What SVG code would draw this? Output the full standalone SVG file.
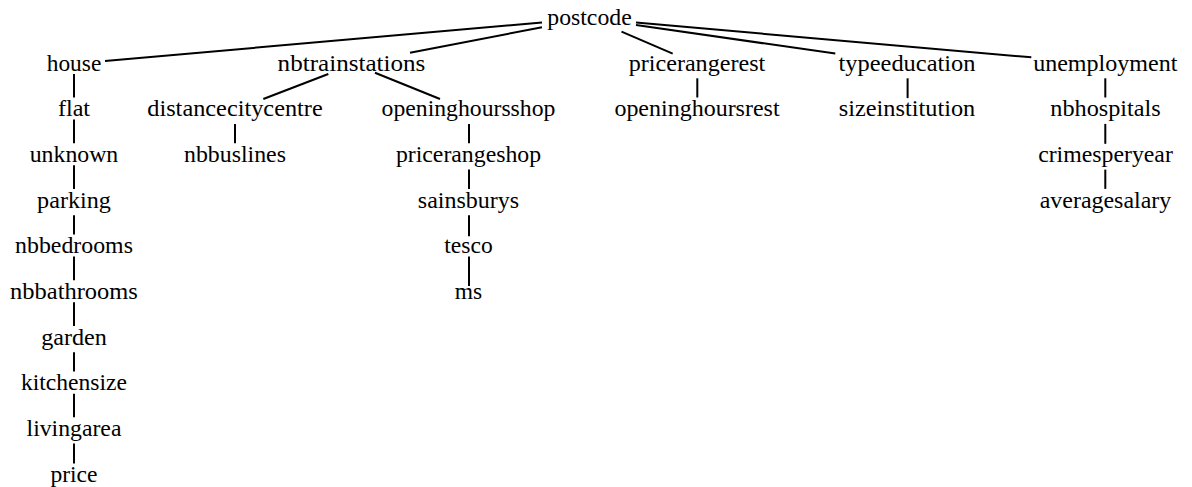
<svg xmlns="http://www.w3.org/2000/svg" width="1192" height="487" viewBox="0 0 1192 487">
<style>
text{font-family:"Liberation Serif","DejaVu Serif",serif;font-size:23px;fill:#000;text-anchor:middle}
.e line{stroke:#000;stroke-width:2;stroke-linecap:butt}
</style>
<rect width="1192" height="487" fill="#fff"/>
<g id="connectors" class="e">
<line x1="542" y1="22.4" x2="105" y2="61"/>
<line x1="542" y1="27.3" x2="410" y2="52.7"/>
<line x1="621.5" y1="31.7" x2="672.7" y2="53.6"/>
<line x1="636" y1="25" x2="835.3" y2="53.6"/>
<line x1="636" y1="22.6" x2="1031.3" y2="57.3"/>
<line x1="328.3" y1="74" x2="263.3" y2="99"/>
<line x1="375" y1="72.7" x2="440" y2="99"/>
<line x1="74" y1="74" x2="74" y2="97.5"/>
<line x1="74" y1="119.6" x2="74" y2="143.2"/>
<line x1="74" y1="165.3" x2="74" y2="188.9"/>
<line x1="74" y1="215.3" x2="74" y2="234.5"/>
<line x1="74" y1="256.6" x2="74" y2="280.2"/>
<line x1="74" y1="302.3" x2="74" y2="325.9"/>
<line x1="74" y1="352.3" x2="74" y2="371.6"/>
<line x1="74" y1="393.7" x2="74" y2="417.2"/>
<line x1="74" y1="443.6" x2="74" y2="463.5"/>
<line x1="235" y1="123.9" x2="235" y2="143.2"/>
<line x1="469" y1="123.9" x2="469" y2="143.2"/>
<line x1="469" y1="169.6" x2="469" y2="188.9"/>
<line x1="469" y1="215.3" x2="469" y2="236.3"/>
<line x1="469" y1="256.6" x2="469" y2="286.1"/>
<line x1="697.3" y1="78.3" x2="697.3" y2="97.5"/>
<line x1="907.6" y1="78.3" x2="907.6" y2="98.1"/>
<line x1="1105.3" y1="78.3" x2="1105.3" y2="97.5"/>
<line x1="1105.3" y1="123.9" x2="1105.3" y2="143.8"/>
<line x1="1105.3" y1="169.6" x2="1105.3" y2="188.9"/>
</g>
<g id="n-postcode"><text x="589.5" y="25" textLength="84.4" lengthAdjust="spacingAndGlyphs">postcode</text></g>
<g id="n-house"><text x="74" y="70.7" textLength="54.6" lengthAdjust="spacingAndGlyphs">house</text></g>
<g id="n-nbtrainstations"><text x="351.5" y="70.7" textLength="147.8" lengthAdjust="spacingAndGlyphs">nbtrainstations</text></g>
<g id="n-pricerangerest"><text x="697" y="70.7" textLength="136.6" lengthAdjust="spacingAndGlyphs">pricerangerest</text></g>
<g id="n-typeeducation"><text x="907" y="70.7" textLength="136.9" lengthAdjust="spacingAndGlyphs">typeeducation</text></g>
<g id="n-unemployment"><text x="1105.3" y="70.7" textLength="144.3" lengthAdjust="spacingAndGlyphs">unemployment</text></g>
<g id="n-flat"><text x="74" y="116.3" textLength="32.2" lengthAdjust="spacingAndGlyphs">flat</text></g>
<g id="n-distancecitycentre"><text x="235" y="116.3" textLength="175.5" lengthAdjust="spacingAndGlyphs">distancecitycentre</text></g>
<g id="n-openinghoursshop"><text x="468.5" y="116.3" textLength="173.8" lengthAdjust="spacingAndGlyphs">openinghoursshop</text></g>
<g id="n-openinghoursrest"><text x="697" y="116.3" textLength="165.2" lengthAdjust="spacingAndGlyphs">openinghoursrest</text></g>
<g id="n-sizeinstitution"><text x="907" y="116.3" textLength="136.5" lengthAdjust="spacingAndGlyphs">sizeinstitution</text></g>
<g id="n-nbhospitals"><text x="1105.5" y="116.3" textLength="110.5" lengthAdjust="spacingAndGlyphs">nbhospitals</text></g>
<g id="n-unknown"><text x="74" y="162" textLength="88.6" lengthAdjust="spacingAndGlyphs">unknown</text></g>
<g id="n-nbbuslines"><text x="235" y="162" textLength="101.9" lengthAdjust="spacingAndGlyphs">nbbuslines</text></g>
<g id="n-pricerangeshop"><text x="468.5" y="162" textLength="145.2" lengthAdjust="spacingAndGlyphs">pricerangeshop</text></g>
<g id="n-crimesperyear"><text x="1105.5" y="162" textLength="134.7" lengthAdjust="spacingAndGlyphs">crimesperyear</text></g>
<g id="n-parking"><text x="74" y="207.7" textLength="73.8" lengthAdjust="spacingAndGlyphs">parking</text></g>
<g id="n-sainsburys"><text x="468.5" y="207.7" textLength="101.4" lengthAdjust="spacingAndGlyphs">sainsburys</text></g>
<g id="n-averagesalary"><text x="1105.5" y="207.7" textLength="131.6" lengthAdjust="spacingAndGlyphs">averagesalary</text></g>
<g id="n-nbbedrooms"><text x="74" y="253.3" textLength="117.9" lengthAdjust="spacingAndGlyphs">nbbedrooms</text></g>
<g id="n-tesco"><text x="468.5" y="253.3" textLength="48.4" lengthAdjust="spacingAndGlyphs">tesco</text></g>
<g id="n-nbbathrooms"><text x="74" y="299" textLength="127.8" lengthAdjust="spacingAndGlyphs">nbbathrooms</text></g>
<g id="n-ms"><text x="468.5" y="299" textLength="27.4" lengthAdjust="spacingAndGlyphs">ms</text></g>
<g id="n-garden"><text x="74" y="344.7" textLength="65.7" lengthAdjust="spacingAndGlyphs">garden</text></g>
<g id="n-kitchensize"><text x="74" y="390.4" textLength="106" lengthAdjust="spacingAndGlyphs">kitchensize</text></g>
<g id="n-livingarea"><text x="74" y="436" textLength="94.9" lengthAdjust="spacingAndGlyphs">livingarea</text></g>
<g id="n-price"><text x="74" y="481.7" textLength="47.1" lengthAdjust="spacingAndGlyphs">price</text></g>
</svg>
